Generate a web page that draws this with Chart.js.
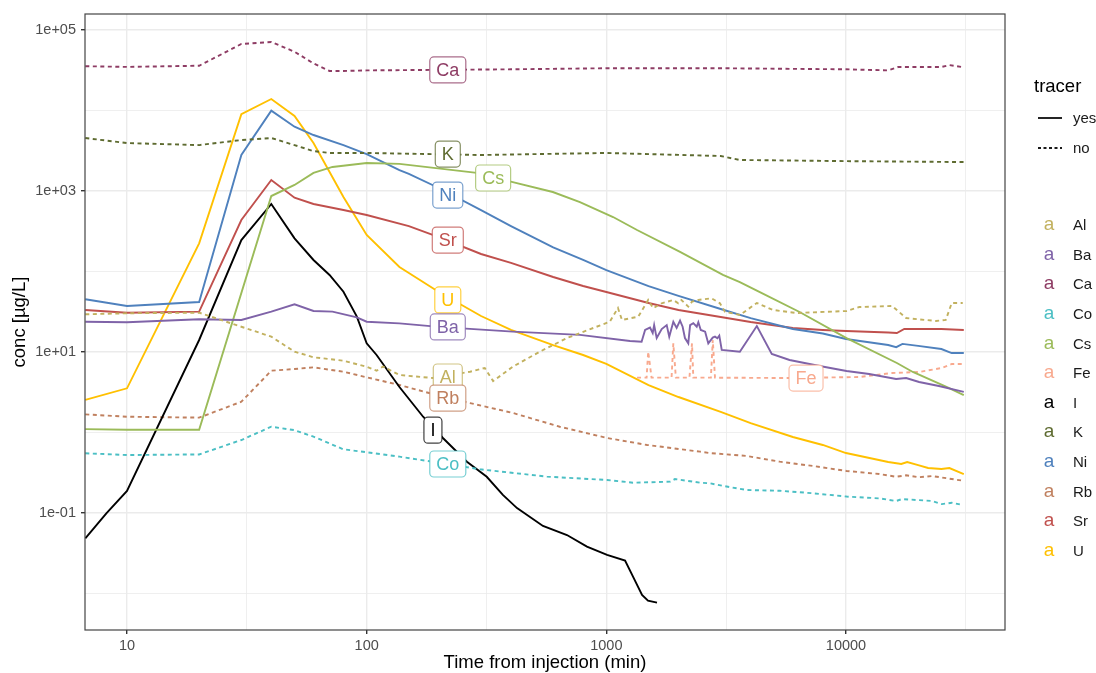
<!DOCTYPE html>
<html>
<head>
<meta charset="utf-8">
<script src="https://cdn.jsdelivr.net/npm/chart.js@4.4.1/dist/chart.umd.min.js"></script>
<style>
  html, body { margin: 0; padding: 0; background: #fff; }
  #wrap { width: 1096px; height: 673px; }
</style>
</head>
<body>
<div id="wrap"><canvas id="concChart" width="1096" height="673"></canvas></div>
<script>
// elements, tracer flag and colours
var elements = ['Al', 'Ba', 'Ca', 'Co', 'Cs', 'Fe', 'I', 'K', 'Ni', 'Rb', 'Sr', 'U'];
var isTracer = [false, true, false, false, true, false, true, false, true, false, true, true];
var colors = ['#C2B15F', '#7F63A8', '#8E3C64', '#4BBFC4', '#9BBB59', '#F8A98E',
              '#000000', '#5E6B30', '#4F81BD', '#C0805F', '#C0504D', '#FFC000'];

// time (min) and concentration (ug/L) per element
var alTime = [6.7, 10, 20, 30, 40, 50, 60, 80, 100, 110, 117, 137, 189, 270, 311, 337, 407, 528, 685, 1034, 1118, 1162, 1359, 1495, 1569, 1702, 1903, 1995, 2058, 2197, 2277, 2420, 2746, 2977, 3124, 3606, 4245, 4950, 6220, 10050, 11360, 15580, 17820, 23720, 26070, 27620, 30690];
var alConc = [29.4, 30.3, 30.8, 20.6, 15.5, 10.1, 8.6, 7.8, 6.56, 5.86, 6.6, 5.18, 4.75, 5.69, 6.33, 4.36, 6.56, 10.1, 14.9, 23.8, 35.2, 25, 27.5, 44.3, 34.9, 40.3, 44.3, 40.3, 44.3, 36.6, 42.2, 44.3, 46.5, 40.3, 31.7, 28.8, 40.6, 33.3, 30.5, 32.3, 36.2, 37.3, 26.4, 24.3, 25, 40.6, 40.6];

var baTime = [6.7, 10, 20, 30, 40, 50, 60, 72, 91, 100, 137, 200, 407, 776, 1255, 1403, 1451, 1521, 1561, 1583, 1622, 1702, 1786, 1830, 1903, 1965, 2030, 2081, 2128, 2197, 2236, 2306, 2383, 2420, 2477, 2583, 2663, 2779, 2840, 2905, 2960, 3030, 3606, 4245, 4900, 5814, 7760, 10050, 12500, 16180, 17820, 20180, 24400, 31000];
var baConc = [23.8, 23.4, 25.5, 25.0, 31.7, 39.2, 32.3, 31.7, 27.0, 23.8, 22.7, 20.5, 17.9, 16.3, 13.7, 13.4, 18.8, 20.1, 17.2, 21.6, 14.9, 19.3, 21.6, 15.5, 23.8, 19.9, 24.5, 20.6, 14.9, 12.8, 21.6, 22.8, 20.6, 23.4, 18.8, 17.9, 12.8, 15.1, 15.5, 14.8, 16.0, 10.6, 10.1, 21.0, 9.44, 7.96, 6.70, 5.81, 5.33, 4.62, 4.75, 4.24, 3.78, 3.19];

var caTime = [6.7, 10, 20, 30, 40, 50, 60, 70, 80, 100, 200, 400, 1000, 3000, 10000, 15000, 16500, 25000, 27000, 31000];
var caConc = [35500, 34800, 36000, 67000, 71000, 53700, 38500, 31000, 31000, 31500, 32000, 32500, 33500, 33500, 32500, 31500, 34700, 34700, 36700, 34400];

var coTime = [6.7, 10, 20, 30, 40, 50, 60, 80, 100, 137, 218, 297, 565, 1007, 1292, 1850, 1932, 2459, 2700, 3066, 3856, 5285, 7260, 10050, 13760, 16180, 17150, 22840, 25110, 27620, 30690];
var coConc = [0.552, 0.525, 0.534, 0.807, 1.18, 1.07, 0.888, 0.618, 0.568, 0.501, 0.406, 0.349, 0.283, 0.257, 0.238, 0.245, 0.264, 0.238, 0.234, 0.217, 0.193, 0.189, 0.176, 0.160, 0.152, 0.141, 0.149, 0.141, 0.129, 0.134, 0.126];

var csTime = [6.7, 10, 20, 40, 50, 60, 72, 100, 137, 288, 407, 598, 776, 1067, 1343, 2030, 3066, 3606, 4370, 6400, 10050, 16300, 19000, 26400, 31000];
var csConc = [1.10, 1.08, 1.08, 866, 1190, 1680, 1990, 2230, 2170, 1680, 1290, 972, 730, 475, 328, 175, 90.6, 74, 55.6, 31.4, 14.9, 7.3, 5.65, 3.67, 2.92];

var feTime = [1343, 1472, 1495, 1544, 1871, 1903, 1950, 2222, 2277, 2306, 2730, 2780, 2840, 5814, 11360, 15580, 20180, 25110, 27620, 30690];
var feConc = [4.8, 4.8, 10.1, 4.8, 4.8, 12.8, 4.8, 4.8, 12.8, 4.8, 4.8, 14.1, 4.8, 4.75, 4.89, 5.48, 5.65, 6.33, 7.1, 7.1];

var iTime = [6.7, 8.2, 10, 20, 30, 40, 50, 60, 70, 80, 91, 100, 110, 137, 172, 208, 262, 317, 370, 424, 544, 685, 830, 1007, 1197, 1292, 1409, 1492, 1627];
var iConc = [0.0485, 0.099, 0.188, 14.1, 246, 690, 258, 139, 90.6, 56.1, 27.5, 12.8, 9.18, 3.67, 1.57, 0.855, 0.434, 0.282, 0.168, 0.115, 0.069, 0.0533, 0.0382, 0.0301, 0.0256, 0.0162, 0.00958, 0.00814, 0.00769];

var kTime = [6.7, 10, 20, 30, 40, 50, 60, 70, 100, 300, 1000, 3000, 3600, 10000, 31000];
var kConc = [4550, 3940, 3720, 4300, 4550, 3720, 3130, 2970, 2970, 2800, 2970, 2720, 2430, 2350, 2290];

var niTime = [6.7, 10, 20, 30, 40, 50, 60, 80, 100, 137, 150, 200, 300, 400, 600, 800, 1000, 1500, 2000, 3000, 4000, 6000, 8000, 10000, 15000, 16200, 17200, 20000, 25000, 27600, 31000];
var niConc = [45.2, 37.3, 41.8, 2800, 9950, 6300, 4960, 3720, 2880, 1820, 1630, 1090, 580, 367, 199, 139, 104, 66, 49.7, 34.2, 26.4, 19.3, 17, 14.5, 12.2, 11.5, 12.6, 11.9, 10.9, 9.7, 9.7];

var rbTime = [6.7, 10, 20, 30, 40, 50, 60, 80, 100, 137, 218, 270, 407, 639, 1007, 1480, 2459, 2700, 3856, 5285, 7260, 10050, 13760, 16180, 17820, 20180, 22840, 30690];
var rbConc = [1.68, 1.57, 1.53, 2.41, 5.86, 6.15, 6.45, 5.69, 4.85, 3.89, 2.68, 2.32, 1.75, 1.18, 0.855, 0.70, 0.578, 0.556, 0.511, 0.434, 0.384, 0.333, 0.305, 0.282, 0.294, 0.278, 0.288, 0.252];

var srTime = [6.7, 10, 20, 30, 40, 50, 60, 80, 100, 150, 200, 300, 400, 600, 800, 1000, 1500, 2000, 3000, 4000, 6000, 8000, 10000, 15000, 16300, 17500, 25000, 31000];
var srConc = [33.3, 30.8, 31.7, 436, 1370, 826, 690, 581, 503, 367, 268, 165, 128, 85.5, 66, 55.6, 40.6, 33.3, 27.2, 23.6, 19.9, 18.8, 18.2, 17.5, 17.2, 19.3, 19.3, 18.8];

var uTime = [6.7, 10, 20, 30, 40, 50, 60, 80, 100, 137, 150, 200, 300, 400, 600, 800, 1000, 1500, 2000, 3000, 4000, 6000, 8000, 10000, 15000, 17000, 18000, 20000, 22000, 25000, 27000, 31000];
var uConc = [2.54, 3.54, 224, 8980, 13900, 8550, 3940, 841, 284, 114, 95.7, 55.6, 28, 18.8, 12.2, 9.18, 7.1, 3.89, 2.76, 1.80, 1.31, 0.88, 0.70, 0.556, 0.43, 0.406, 0.43, 0.394, 0.362, 0.352, 0.362, 0.305];

// direct labels (element, time, conc)
var labelNames = ['Ca', 'K', 'Cs', 'Ni', 'Sr', 'U', 'Ba', 'Al', 'Rb', 'I', 'Co', 'Fe'];
var labelTimes = [218, 218, 337, 218, 218, 218, 218, 218, 218, 189, 218, 6810];
var labelConcs = [31900, 2880, 1450, 891, 246, 44.3, 20.5, 4.89, 2.68, 1.07, 0.406, 4.75];

// axis ticks
var xMajor = [10, 100, 1000, 10000];
var xMajorLabels = ['10', '100', '1000', '10000'];
var xMinor = [31.62, 316.2, 3162, 31623];
var yMajor = [1e5, 1e3, 10, 0.1];
var yMajorLabels = ['1e+05', '1e+03', '1e+01', '1e-01'];
var yMinor = [1e4, 100, 1, 0.01];

var series = {
    Al: [alTime, alConc], Ba: [baTime, baConc], Ca: [caTime, caConc], Co: [coTime, coConc],
    Cs: [csTime, csConc], Fe: [feTime, feConc], I: [iTime, iConc], K: [kTime, kConc],
    Ni: [niTime, niConc], Rb: [rbTime, rbConc], Sr: [srTime, srConc], U: [uTime, uConc]
};

var FONT = '"Liberation Sans", Arial, sans-serif';
Chart.defaults.font.family = FONT;

function majorIndex(list, v) {
    for (var i = 0; i < list.length; i++) {
        if (Math.abs(Math.log10(v) - Math.log10(list[i])) < 1e-3) return i;
    }
    return -1;
}

var datasets = elements.map(function (el, i) {
    var s = series[el];
    return {
        label: el,
        data: s[0].map(function (t, j) { return { x: t, y: s[1][j] }; }),
        borderColor: colors[i],
        backgroundColor: colors[i],
        borderWidth: 1.9,
        borderDash: isTracer[i] ? [] : [4, 3.5],
        pointRadius: 0,
        tension: 0,
        fill: false
    };
});

var panelPlugin = {
    id: 'panel',
    afterDatasetsDraw: function (chart) {
        var ctx = chart.ctx, xs = chart.scales.x, ys = chart.scales.y;
        ctx.save();
        ctx.font = '18px ' + FONT;
        ctx.textAlign = 'center';
        ctx.textBaseline = 'middle';
        for (var i = 0; i < labelNames.length; i++) {
            var name = labelNames[i];
            var col = colors[elements.indexOf(name)];
            var px = xs.getPixelForValue(labelTimes[i]);
            var py = ys.getPixelForValue(labelConcs[i]);
            var w = ctx.measureText(name).width + 13, h = 26;
            ctx.beginPath();
            ctx.roundRect(px - w / 2, py - h / 2, w, h, 4);
            ctx.fillStyle = '#ffffff';
            ctx.fill();
            ctx.globalAlpha = 0.75;
            ctx.strokeStyle = col;
            ctx.lineWidth = 1.2;
            ctx.stroke();
            ctx.globalAlpha = 1;
            ctx.fillStyle = col;
            ctx.fillText(name, px, py + 1);
        }
        ctx.restore();
    },
    afterDraw: function (chart) {
        var ctx = chart.ctx, a = chart.chartArea;
        ctx.save();
        // panel border
        ctx.strokeStyle = '#444444';
        ctx.lineWidth = 1.2;
        ctx.strokeRect(a.left, a.top, a.right - a.left, a.bottom - a.top);

        // axis titles
        ctx.fillStyle = '#000000';
        ctx.font = '18.5px ' + FONT;
        ctx.textAlign = 'center';
        ctx.textBaseline = 'middle';
        ctx.fillText('Time from injection (min)', (a.left + a.right) / 2, 663);
        ctx.save();
        ctx.translate(20, (a.top + a.bottom) / 2);
        ctx.rotate(-Math.PI / 2);
        ctx.fillText('conc [\u00b5g/L]', 0, 0);
        ctx.restore();

        // legend: tracer
        ctx.textAlign = 'left';
        ctx.font = '18.5px ' + FONT;
        ctx.fillStyle = '#000000';
        ctx.fillText('tracer', 1034, 87);
        ctx.strokeStyle = '#1A1A1A';
        ctx.lineWidth = 1.9;
        ctx.beginPath();
        ctx.moveTo(1038, 118); ctx.lineTo(1062, 118);
        ctx.stroke();
        ctx.setLineDash([3, 2.5]);
        ctx.beginPath();
        ctx.moveTo(1038, 148); ctx.lineTo(1062, 148);
        ctx.stroke();
        ctx.setLineDash([]);
        ctx.font = '15px ' + FONT;
        ctx.fillStyle = '#1A1A1A';
        ctx.fillText('yes', 1073, 119);
        ctx.fillText('no', 1073, 149);

        // legend: elements
        for (var i = 0; i < elements.length; i++) {
            var y = 225 + i * 29.6;
            ctx.font = '19px ' + FONT;
            ctx.fillStyle = colors[i];
            ctx.textAlign = 'center';
            ctx.fillText('a', 1049, y);
            ctx.font = '15px ' + FONT;
            ctx.fillStyle = '#1A1A1A';
            ctx.textAlign = 'left';
            ctx.fillText(elements[i], 1073, y + 1);
        }
        ctx.restore();
    }
};

new Chart(document.getElementById('concChart').getContext('2d'), {
    type: 'line',
    data: { datasets: datasets },
    options: {
        responsive: false,
        devicePixelRatio: 1,
        animation: false,
        layout: { padding: { top: 14, right: 91, left: 0, bottom: 0 } },
        plugins: { legend: { display: false }, tooltip: { enabled: false } },
        scales: {
            x: {
                type: 'logarithmic',
                min: 6.68,
                max: 46060,
                afterBuildTicks: function (axis) {
                    axis.ticks = xMajor.concat(xMinor).sort(function (a, b) { return a - b; })
                        .map(function (v) { return { value: v }; });
                },
                afterFit: function (axis) { axis.height = 43; },
                border: { display: false },
                grid: {
                    color: '#EBEBEB',
                    lineWidth: function (c) { return majorIndex(xMajor, c.tick.value) >= 0 ? 1.4 : 0.8; },
                    tickColor: function (c) { return majorIndex(xMajor, c.tick.value) >= 0 ? '#333333' : 'rgba(0,0,0,0)'; },
                    tickLength: 4
                },
                ticks: {
                    autoSkip: false,
                    maxRotation: 0,
                    padding: 3,
                    color: '#4D4D4D',
                    font: { size: 14.5 },
                    callback: function (v) {
                        var k = majorIndex(xMajor, v);
                        return k >= 0 ? xMajorLabels[k] : '';
                    }
                }
            },
            y: {
                type: 'logarithmic',
                min: 0.00352,
                max: 158100,
                afterBuildTicks: function (axis) {
                    axis.ticks = yMajor.concat(yMinor).sort(function (a, b) { return a - b; })
                        .map(function (v) { return { value: v }; });
                },
                afterFit: function (axis) { axis.width = 85; },
                border: { display: false },
                grid: {
                    color: '#EBEBEB',
                    lineWidth: function (c) { return majorIndex(yMajor, c.tick.value) >= 0 ? 1.4 : 0.8; },
                    tickColor: function (c) { return majorIndex(yMajor, c.tick.value) >= 0 ? '#333333' : 'rgba(0,0,0,0)'; },
                    tickLength: 4
                },
                ticks: {
                    autoSkip: false,
                    padding: 5,
                    color: '#4D4D4D',
                    font: { size: 14.5 },
                    callback: function (v) {
                        var k = majorIndex(yMajor, v);
                        return k >= 0 ? yMajorLabels[k] : '';
                    }
                }
            }
        }
    },
    plugins: [panelPlugin]
});
</script>
</body>
</html>
